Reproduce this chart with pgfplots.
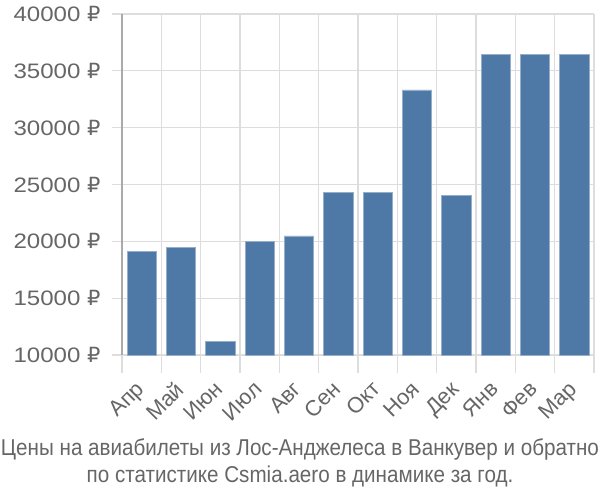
\documentclass[border=0pt]{standalone}
\usepackage{pgfplots}
\pgfplotsset{compat=1.18}
\usepackage{fontspec}
\setmainfont{Liberation Sans}
\newfontfamily\titlefont[FakeStretch=0.9]{Liberation Sans}
\newfontfamily\tickfont[FakeStretch=1.15]{Liberation Sans}
\newfontfamily\rubfont{DejaVu Sans}
\definecolor{barblue}{HTML}{4E79A7}
\definecolor{gridgray}{HTML}{DDDDDD}
\definecolor{axisgray}{HTML}{AAAAAA}
\definecolor{textgray}{HTML}{666666}

\begin{document}
\begin{tikzpicture}
\begin{axis}[
    name=ax,
    scale only axis,
    width=472bp, height=341bp,
    xmin=-0.5, xmax=11.5,
    ymin=10000, ymax=40000,
    ytick={10000,15000,...,40000},
    scaled y ticks=false,
    xtick={0,...,11},
    xticklabels={Апр,Май,Июн,Июл,Авг,Сен,Окт,Ноя,Дек,Янв,Фев,Мар},
    minor xtick={-0.5,0.5,...,11.5},
    major x tick style={draw=none},
    minor x tick style={draw=gridgray, line width=1.2pt},
    y tick style={draw=gridgray, line width=1.2pt},
    tick align=outside,
    minor tick length=18bp,
    major tick length=20bp,
    xmajorgrids=false,
    xminorgrids=true,
    ymajorgrids=true,
    grid style={draw=gridgray, line width=1.2pt},
    axis lines=left,
    axis line style={-},
    x axis line style={draw=gridgray, line width=1.2pt},
    y axis line style={draw=axisgray, line width=1.2pt},
    /pgf/number format/assume math mode=true,
    /pgf/number format/1000 sep={},
    yticklabel={\pgfmathprintnumber{\tick}~{\rubfont ₽}},
    yticklabel style={font=\tickfont\fontsize{21}{25}\selectfont, text=textgray, xshift=-8bp},
    xticklabel style={font=\fontsize{22}{26}\selectfont, text=textgray, rotate=45, anchor=north east, xshift=-5bp, yshift=5bp},
    ybar,
    bar width=0.74,
]
\addplot[fill=barblue, draw=barblue!60!white, line width=0.6pt] coordinates {
    (0,19090) (1,19450) (2,11170) (3,19990) (4,20470) (5,24320)
    (6,24320) (7,33330) (8,24030) (9,36470) (10,36470) (11,36470)
};
\end{axis}
\node[text=textgray, align=center, font=\titlefont\fontsize{23}{27}\selectfont, anchor=north]
    at ([xshift=178bp, yshift=-80bp]ax.south west)
    {Цены на авиабилеты из Лос-Анджелеса в Ванкувер и обратно\\по статистике Csmia.aero в динамике за год.};
\pgfresetboundingbox
\path[use as bounding box] ([xshift=-122bp, yshift=-145bp]ax.south west) rectangle ([xshift=6bp, yshift=14bp]ax.north east);
\end{tikzpicture}
\end{document}
